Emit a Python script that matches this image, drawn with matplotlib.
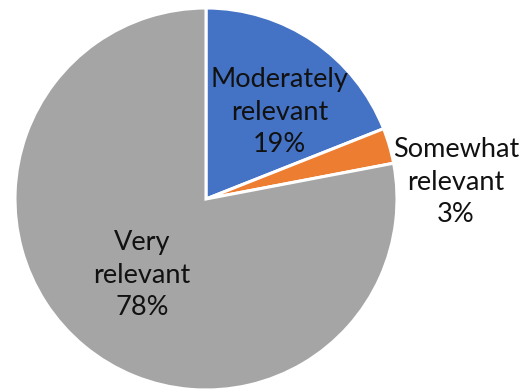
import matplotlib
matplotlib.use("Agg")
import matplotlib.pyplot as plt

categories = ["Moderately relevant", "Somewhat relevant", "Very relevant"]
shares = [19, 3, 78]
colors = ["#4472C4", "#ED7D31", "#A5A5A5"]

# label anchor points (data coords, pie radius = 1)
label_pos = [(0.387, 0.455), (1.309, 0.089), (-0.335, -0.398)]

plt.rcParams["font.family"] = ["Lato", "DejaVu Sans"]

fig = plt.figure(figsize=(5.31, 3.90), dpi=100)
W, H = 531, 390
cx, cy, r = 206, 199, 191
ax = fig.add_axes([(cx - r) / W, (H - cy - r) / H, 2 * r / W, 2 * r / H])

ax.pie(shares, colors=colors, startangle=90, counterclock=False,
       radius=1.0, wedgeprops=dict(edgecolor="white", linewidth=2.2))
ax.set_xlim(-1, 1)
ax.set_ylim(-1, 1)
ax.set_aspect("auto")
ax.axis("off")

for name, val, (x, y) in zip(categories, shares, label_pos):
    words = name.split(" ")
    txt = f"{words[0]}\n{words[1]}\n{val}%"
    ax.text(x, y, txt, ha="center", va="center", fontsize=19.5,
            color="#111111", linespacing=1.38, clip_on=False)

fig.savefig("out.png", dpi=100)
